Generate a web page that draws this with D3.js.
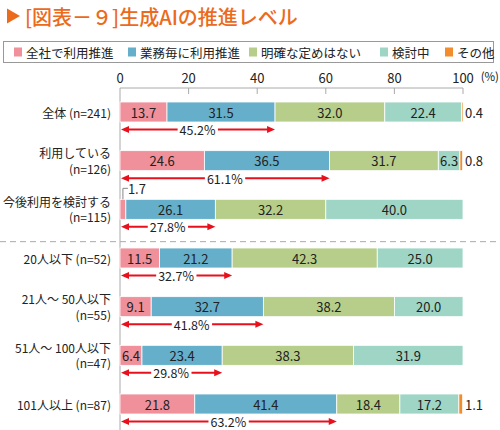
<!DOCTYPE html>
<html>
<head>
<meta charset="utf-8">
<script src="https://cdn.jsdelivr.net/npm/d3@7"></script>
<style>
  body { margin: 0; background: #fff; }
  svg text { font-family: "Noto Sans CJK JP", "Noto Sans", sans-serif; fill: #222; }
</style>
</head>
<body>
<div id="chart"></div>
<script>
// categories (row labels, "|" splits into two lines)
const categories = [
  "全体 (n=241)",
  "利用している|(n=126)",
  "今後利用を検討する|(n=115)",
  "20人以下 (n=52)",
  "21人～ 50人以下|(n=55)",
  "51人～ 100人以下|(n=47)",
  "101人以上 (n=87)"
];
const seriesNames = ["全社で利用推進", "業務毎に利用推進", "明確な定めはない", "検討中", "その他"];
const zensha = [13.7, 24.6, 1.7, 11.5, 9.1, 6.4, 21.8];
const gyomu = [31.5, 36.5, 26.1, 21.2, 32.7, 23.4, 41.4];
const meikaku = [32.0, 31.7, 32.2, 42.3, 38.2, 38.3, 18.4];
const kento = [22.4, 6.3, 40.0, 25.0, 20.0, 31.9, 17.2];
const sonota = [0.4, 0.8, 0, 0, 0, 0, 1.1];
const promoted = [45.2, 61.1, 27.8, 32.7, 41.8, 29.8, 63.2];
const ticks = [0, 20, 40, 60, 80, 100];
const colors = ["#f0909b", "#65afcb", "#b6ce89", "#9ed5c5", "#f28c2c"];

const width = 500, height = 430;
const svg = d3.select("#chart").append("svg")
  .attr("width", width)
  .attr("height", height);

// title
svg.append("path")
  .attr("d", "M7,8.5 L20,16 L7,23.5 Z")
  .attr("fill", "#ec6a1c");
svg.append("text")
  .attr("x", 25)
  .attr("y", 16)
  .attr("dominant-baseline", "central")
  .style("font-size", "20px")
  .style("font-weight", 500)
  .style("fill", "#ec6a1c")
  .text("[図表－９]生成AIの推進レベル");

// legend
svg.append("rect")
  .attr("x", 3.5).attr("y", 41.5)
  .attr("width", 490).attr("height", 21)
  .attr("fill", "none")
  .attr("stroke", "#999");
const legendX = [14, 128, 249, 380, 445];
const legend = svg.append("g").selectAll("g")
  .data(seriesNames)
  .join("g")
  .attr("transform", (d, i) => `translate(${legendX[i]},52)`);
legend.append("rect")
  .attr("x", 0).attr("y", -4.5)
  .attr("width", 8).attr("height", 9)
  .attr("fill", (d, i) => colors[i]);
legend.append("text")
  .attr("x", 12)
  .attr("dominant-baseline", "central")
  .style("font-size", "12.5px")
  .text(d => d);

// scales
const x = d3.scaleLinear().domain([0, 100]).range([120, 463]);
const y = d3.scalePoint().domain(categories).range([112, 404]);
const barH = 20;

// axis
const axis = svg.append("g");
axis.append("line")
  .attr("x1", x(0)).attr("x2", x(100))
  .attr("y1", 88).attr("y2", 88)
  .attr("stroke", "#aaa");
axis.selectAll(".tick")
  .data(ticks)
  .join("line")
  .attr("x1", d => x(d)).attr("x2", d => x(d))
  .attr("y1", 88).attr("y2", d => d === 0 ? height : 94)
  .attr("stroke", "#aaa");
axis.selectAll("text")
  .data(ticks)
  .join("text")
  .attr("x", d => x(d))
  .attr("y", 77)
  .attr("text-anchor", "middle")
  .attr("dominant-baseline", "central")
  .style("font-size", "13px")
  .text(d => d);
svg.append("text")
  .attr("x", 499)
  .attr("y", 76)
  .attr("text-anchor", "end")
  .attr("dominant-baseline", "central")
  .style("font-size", "11.5px")
  .text("(%)");

// dashed separator between groups
const sepY = (y(categories[2]) + y(categories[3])) / 2 + 8;
svg.append("line")
  .attr("x1", 0).attr("x2", width)
  .attr("y1", sepY).attr("y2", sepY)
  .attr("stroke", "#aaa")
  .attr("stroke-dasharray", "6,4");

// row labels
const rowLabels = svg.append("g").selectAll("text")
  .data(categories)
  .join("text")
  .attr("x", 111)
  .attr("y", d => y(d))
  .attr("text-anchor", "end")
  .style("font-size", "12px");
rowLabels.each(function (d) {
  const lines = d.split("|");
  const t = d3.select(this);
  lines.forEach((ln, i) => {
    t.append("tspan")
      .attr("x", 111)
      .attr("y", y(d) + (lines.length === 1 ? 0 : (i === 0 ? -8 : 7.5)))
      .attr("dominant-baseline", "central")
      .text(ln);
  });
});

// stacked data
const rows = categories.map((c, i) => ({
  cat: c,
  vals: [zensha[i], gyomu[i], meikaku[i], kento[i], sonota[i]],
  promoted: promoted[i]
}));
const series = d3.stack()
  .keys([0, 1, 2, 3, 4])
  .value((d, k) => d.vals[k])(rows);

const segs = svg.append("g").selectAll("g")
  .data(series)
  .join("g")
  .attr("fill", (d, i) => colors[i]);
segs.selectAll("rect")
  .data(d => d.filter(p => p[1] - p[0] > 0))
  .join("rect")
  .attr("x", d => x(d[0]))
  .attr("y", d => y(d.data.cat) - barH / 2)
  .attr("width", d => x(d[1]) - x(d[0]))
  .attr("height", barH)
  .attr("stroke", "#fff")
  .attr("stroke-width", 0.8);

// value labels
const labels = svg.append("g");
series.forEach((s, k) => {
  s.forEach(p => {
    const v = p.data.vals[k];
    if (!(v > 0)) return;
    const cy = y(p.data.cat);
    if (k === 4) {
      labels.append("text")
        .attr("x", x(100) + 2)
        .attr("y", cy)
        .attr("dominant-baseline", "central")
        .style("font-size", "13px")
        .text(v.toFixed(1));
    } else if (v < 3) {
      const mx = (x(p[0]) + x(p[1])) / 2;
      labels.append("path")
        .attr("d", `M${mx},${cy - barH / 2} V${cy - barH / 2 - 11} H${mx + 5}`)
        .attr("fill", "none")
        .attr("stroke", "#888");
      labels.append("text")
        .attr("x", mx + 5)
        .attr("y", cy - barH / 2 - 11)
        .attr("dominant-baseline", "central")
        .style("font-size", "13px")
        .text(v.toFixed(1));
    } else {
      labels.append("text")
        .attr("x", (x(p[0]) + x(p[1])) / 2)
        .attr("y", cy)
        .attr("text-anchor", "middle")
        .attr("dominant-baseline", "central")
        .style("font-size", "13px")
        .text(v.toFixed(1));
    }
  });
});

// red double arrows with promoted total
const red = "#e8101c";
const arrows = svg.append("g").selectAll("g")
  .data(rows)
  .join("g")
  .attr("transform", d => `translate(0,${y(d.cat) + barH / 2 + 7.5})`);
arrows.append("line")
  .attr("x1", x(0) + 4)
  .attr("x2", d => x(d.promoted) - 4)
  .attr("stroke", red)
  .attr("stroke-width", 2);
arrows.append("path")
  .attr("d", `M${x(0) + 1},0 l8,-3.5 v7 Z`)
  .attr("fill", red);
arrows.append("path")
  .attr("d", d => `M${x(d.promoted)},0 l-8,-3.5 v7 Z`)
  .attr("fill", red);
arrows.each(function (d) {
  const g = d3.select(this);
  const cx = (x(0) + x(d.promoted)) / 2;
  const t = g.append("text")
    .attr("x", cx)
    .attr("text-anchor", "middle")
    .attr("dominant-baseline", "central")
    .style("font-size", "12.5px")
    .text(d.promoted.toFixed(1) + "%");
  const bb = t.node().getBBox();
  g.insert("rect", "text")
    .attr("x", bb.x - 2)
    .attr("y", -6)
    .attr("width", bb.width + 4)
    .attr("height", 12)
    .attr("fill", "#fff");
});
</script>
</body>
</html>
